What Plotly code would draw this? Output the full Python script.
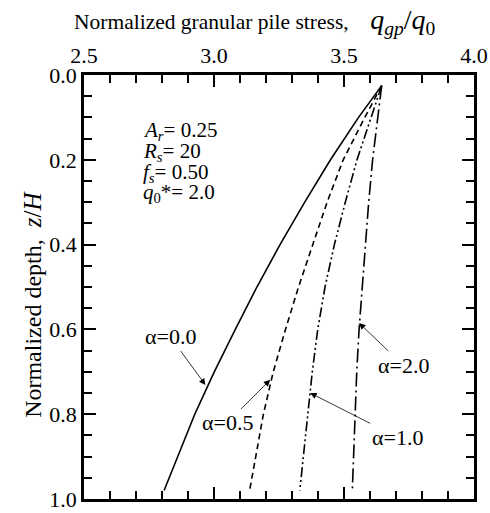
import plotly.graph_objects as go

# Normalized depth z/H
depth = [0.025, 0.1, 0.2, 0.3, 0.4, 0.5, 0.6, 0.7, 0.8, 0.9, 0.98]
# Normalized granular pile stress q_gp/q0 for each alpha
stress_a00 = [3.645, 3.556, 3.448, 3.349, 3.254, 3.165, 3.082, 3.001, 2.926, 2.862, 2.808]
stress_a05 = [3.645, 3.58, 3.497, 3.435, 3.38, 3.325, 3.275, 3.228, 3.19, 3.16, 3.137]
stress_a10 = [3.645, 3.605, 3.55, 3.505, 3.463, 3.427, 3.399, 3.378, 3.36, 3.343, 3.33]
stress_a20 = [3.645, 3.63, 3.61, 3.595, 3.582, 3.57, 3.558, 3.549, 3.542, 3.537, 3.532]

series = [
    ("α=0.0", stress_a00, "solid"),
    ("α=0.5", stress_a05, "6px,4px"),
    ("α=1.0", stress_a10, "10px,3px,2px,3px,2px,3px"),
    ("α=2.0", stress_a20, "14px,4px,2px,4px"),
]

x_ticks = [2.5, 3.0, 3.5, 4.0]
y_ticks = [0.0, 0.2, 0.4, 0.6, 0.8, 1.0]

param_lines = ["<i>A<sub>r</sub></i>= 0.25", "<i>R<sub>s</sub></i>= 20",
               "<i>f<sub>s</sub></i>= 0.50", "<i>q</i><sub>0</sub>*= 2.0"]

FONT = "Liberation Serif"
BLACK = "black"

fig = go.Figure()
for name, xs, dash in series:
    fig.add_trace(go.Scatter(x=xs, y=depth, mode="lines", name=name,
                             line=dict(color=BLACK, width=1.6, dash=dash),
                             showlegend=False))

# label annotations: (text, tip x, tip y, ax, ay)
labels = [
    ("α=0.0", 2.967, 0.731, -35, -48),
    ("α=0.5", 3.216, 0.719, -43, 43),
    ("α=2.0", 3.558, 0.585, 44, 42),
    ("α=1.0", 3.370, 0.750, 87, 44),
]
for t, x, y, ax, ay in labels:
    fig.add_annotation(x=x, y=y, text=t, ax=ax, ay=ay, showarrow=True,
                       arrowhead=2, arrowsize=1.6, arrowwidth=0.8,
                       arrowcolor=BLACK, font=dict(family=FONT, size=22, color=BLACK))

# parameter block, one line per annotation
for i, t in enumerate(param_lines):
    fig.add_annotation(xref="paper", yref="paper", x=0.147, y=0.868 - i * 0.049,
                       xanchor="left", yanchor="middle", align="left",
                       showarrow=False, text=t,
                       font=dict(family=FONT, size=21, color=BLACK))

# x-axis title (top) as annotation
fig.add_annotation(xref="paper", yref="paper", x=-0.031, y=1.126,
                   xanchor="left", yanchor="middle", showarrow=False,
                   text="Normalized granular pile stress,&nbsp;&nbsp;&nbsp;&nbsp;"
                        "<span style='font-size:28px'><i>q</i><sub><i>gp</i></sub>/<i>q</i><sub>0</sub></span>",
                   font=dict(family=FONT, size=21.5, color=BLACK))

# y-axis title as annotation
fig.add_annotation(xref="paper", yref="paper", x=-0.131, y=0.46, textangle=-90,
                   xanchor="center", yanchor="middle", showarrow=False,
                   text="Normalized depth,&nbsp;&nbsp;<span style='font-size:25px'><i>z</i>/<i>H</i></span>",
                   font=dict(family=FONT, size=24, color=BLACK))

fig.update_xaxes(range=[2.5, 4.0], side="top", tickvals=x_ticks,
                 ticktext=[f"{v:.1f}" for v in x_ticks],
                 ticks="inside", ticklen=12, tickwidth=1.5, tickcolor=BLACK,
                 showline=True, linewidth=2.5, linecolor=BLACK, mirror="ticks",
                 showgrid=False, zeroline=False, automargin=False,
                 minor=dict(dtick=0.1, ticks="inside", ticklen=8, tickwidth=1.5,
                            tickcolor=BLACK, showgrid=False),
                 tickfont=dict(family=FONT, size=22, color=BLACK))
fig.update_yaxes(range=[1.0, 0.0], tickvals=y_ticks,
                 ticktext=[f"{v:.1f}" for v in y_ticks],
                 ticks="inside", ticklen=12, tickwidth=1.5, tickcolor=BLACK,
                 showline=True, linewidth=2.5, linecolor=BLACK, mirror="ticks",
                 showgrid=False, zeroline=False, automargin=False,
                 minor=dict(dtick=0.05, ticks="inside", ticklen=8, tickwidth=1.5,
                            tickcolor=BLACK, showgrid=False),
                 tickfont=dict(family=FONT, size=22, color=BLACK))

fig.update_layout(width=490, height=513, margin=dict(l=84, r=16, t=75, b=14),
                  paper_bgcolor="white", plot_bgcolor="white",
                  font=dict(family=FONT, color=BLACK))

fig.write_html("out.html")
